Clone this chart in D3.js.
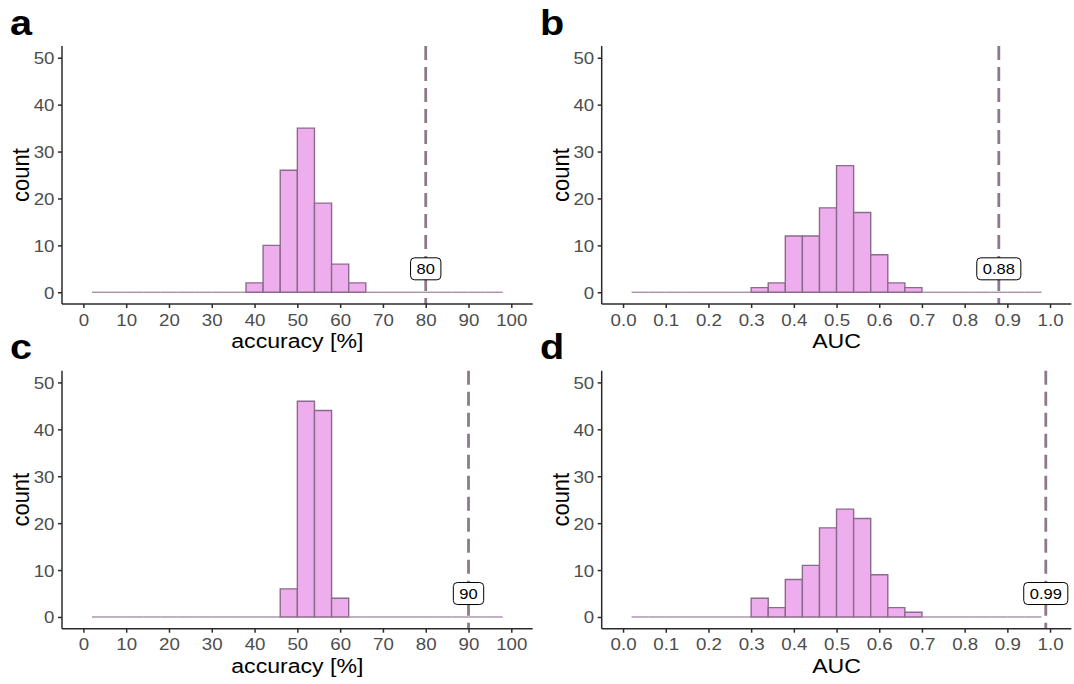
<!DOCTYPE html>
<html>
<head>
<meta charset="utf-8">
<script src="https://cdn.jsdelivr.net/npm/d3@7"></script>
<style>
  body { margin: 0; background: white; }
  text { font-family: "Liberation Sans", Arial, Helvetica, sans-serif; }
</style>
</head>
<body>
<div id="chart"></div>
<script>
// histogram bins (lower edges) and counts
const accBinStarts = [2, 6, 10, 14, 18, 22, 26, 30, 34, 38, 42, 46, 50, 54, 58, 62, 66, 70, 74, 78, 82, 86, 90, 94];
const accBinWidth = 4;
const aucBinStarts = [0.02, 0.06, 0.10, 0.14, 0.18, 0.22, 0.26, 0.30, 0.34, 0.38, 0.42, 0.46, 0.50, 0.54, 0.58, 0.62, 0.66, 0.70, 0.74, 0.78, 0.82, 0.86, 0.90, 0.94];
const aucBinWidth = 0.04;

const countsA = [0, 0, 0, 0, 0, 0, 0, 0, 0, 2, 10, 26, 35, 19, 6, 2, 0, 0, 0, 0, 0, 0, 0, 0];
const countsB = [0, 0, 0, 0, 0, 0, 0, 1, 2, 12, 12, 18, 27, 17, 8, 2, 1, 0, 0, 0, 0, 0, 0, 0];
const countsC = [0, 0, 0, 0, 0, 0, 0, 0, 0, 0, 0, 6, 46, 44, 4, 0, 0, 0, 0, 0, 0, 0, 0, 0];
const countsD = [0, 0, 0, 0, 0, 0, 0, 4, 2, 8, 11, 19, 23, 21, 9, 2, 1, 0, 0, 0, 0, 0, 0, 0];

const observed = [80, 0.88, 90, 0.99];
const observedLabels = ["80", "0.88", "90", "0.99"];
const letters = ["a", "b", "c", "d"];
const xTitles = ["accuracy [%]", "AUC", "accuracy [%]", "AUC"];
const accTicks = [0, 10, 20, 30, 40, 50, 60, 70, 80, 90, 100];
const aucTicks = [0, 0.1, 0.2, 0.3, 0.4, 0.5, 0.6, 0.7, 0.8, 0.9, 1.0];
const countTicks = [0, 10, 20, 30, 40, 50];

const W = 1074, H = 684;
const sx = 1.1; // the reference is slightly stretched horizontally
const fill = "#eeaeee", edge = "#8b6b8b", zeroEdge = "#a387a3", vlineColor = "#8c7a8c";
const axisColor = "#2b2b2b", tickText = "#4d4d4d";

const svg = d3.select("#chart").append("svg")
    .attr("width", W)
    .attr("height", H);

const layout = [
    { left: 62, right: 532.7, top: 46, bottom: 304, lx: 10, ly: 35 },
    { left: 601.7, right: 1071.4, top: 46, bottom: 304, lx: 540, ly: 35 },
    { left: 62, right: 532.7, top: 370.7, bottom: 628.7, lx: 10, ly: 359 },
    { left: 601.7, right: 1071.4, top: 370.7, bottom: 628.7, lx: 540, ly: 359 }
];

const panels = [
    { starts: accBinStarts, width: accBinWidth, counts: countsA, domain: [-5, 105], ticks: accTicks, fmt: d3.format("d") },
    { starts: aucBinStarts, width: aucBinWidth, counts: countsB, domain: [-0.05, 1.05], ticks: aucTicks, fmt: d3.format(".1f") },
    { starts: accBinStarts, width: accBinWidth, counts: countsC, domain: [-5, 105], ticks: accTicks, fmt: d3.format("d") },
    { starts: aucBinStarts, width: aucBinWidth, counts: countsD, domain: [-0.05, 1.05], ticks: aucTicks, fmt: d3.format(".1f") }
];

function stretched(g, x, y, extra) {
    return g.append("text")
        .attr("transform", `translate(${x},${y}) scale(${sx},1)` + (extra || ""));
}

panels.forEach((p, i) => {
    const L = layout[i];
    const x = d3.scaleLinear(p.domain, [L.left, L.right]);
    const y = d3.scaleLinear([-2.5, 52.5], [L.bottom, L.top]);
    const g = svg.append("g");

    // bars
    const bins = p.starts.map((s, j) => ({ x0: s, x1: s + p.width, count: p.counts[j] }));
    g.selectAll("path.bar")
        .data(bins)
        .enter()
        .append("path")
        .attr("class", "bar")
        .attr("d", d => {
            const a = x(d.x0), b = x(d.x1), y0 = y(0), y1 = y(d.count);
            return d.count === 0 ? `M${a},${y0}H${b}` : `M${a},${y0}V${y1}H${b}V${y0}Z`;
        })
        .attr("fill", d => d.count === 0 ? "none" : fill)
        .attr("stroke", d => d.count === 0 ? zeroEdge : edge)
        .attr("stroke-width", d => d.count === 0 ? 1.3 : 1.4);

    // observed value line
    g.append("line")
        .attr("x1", x(observed[i]))
        .attr("x2", x(observed[i]))
        .attr("y1", L.top)
        .attr("y2", L.bottom)
        .attr("stroke", vlineColor)
        .attr("stroke-width", 2.8)
        .attr("stroke-dasharray", "14,7");

    // label box
    const lab = g.append("g");
    const t = stretched(lab, x(observed[i]), y(5) + 5.3, "")
        .attr("text-anchor", "middle")
        .attr("font-size", 15)
        .attr("fill", "black")
        .text(observedLabels[i]);
    const tw = t.node().getComputedTextLength() * sx;
    lab.insert("rect", "text")
        .attr("x", x(observed[i]) - tw / 2 - 6)
        .attr("y", y(5) - 11)
        .attr("width", tw + 12)
        .attr("height", 22)
        .attr("rx", 4)
        .attr("fill", "white")
        .attr("stroke", "black")
        .attr("stroke-width", 1);

    // axes
    const xAxis = d3.axisBottom(x).tickValues(p.ticks).tickFormat(p.fmt).tickSize(4).tickSizeOuter(0);
    const gx = svg.append("g")
        .attr("transform", `translate(0,${L.bottom})`)
        .call(xAxis);
    gx.selectAll("text")
        .attr("y", null).attr("dy", null)
        .attr("transform", `translate(0,21.5) scale(${sx},1)`)
        .attr("font-size", 17)
        .attr("font-family", null)
        .attr("fill", tickText);

    const yAxis = d3.axisLeft(y).tickValues(countTicks).tickSize(4).tickSizeOuter(0);
    const gy = svg.append("g")
        .attr("transform", `translate(${L.left},0)`)
        .call(yAxis);
    gy.selectAll("text")
        .attr("x", null).attr("dy", null)
        .attr("transform", `translate(-7.5,6) scale(${sx},1)`)
        .attr("font-size", 17)
        .attr("font-family", null)
        .attr("fill", tickText);

    svg.selectAll(".domain, .tick line")
        .attr("stroke", axisColor)
        .attr("stroke-width", 1.5);
    gx.select(".domain").attr("d", `M${L.left},0H${L.right}`);
    gy.select(".domain").attr("d", `M0,${L.top}V${L.bottom}`);

    // titles
    stretched(svg, (L.left + L.right) / 2, L.bottom + 44, "")
        .attr("text-anchor", "middle")
        .attr("font-size", 21)
        .attr("fill", "black")
        .text(xTitles[i]);
    stretched(svg, L.left - 33, (L.top + L.bottom) / 2, " rotate(-90)")
        .attr("text-anchor", "middle")
        .attr("font-size", 22)
        .attr("fill", "black")
        .text("count");

    stretched(svg, L.lx, L.ly, "")
        .attr("font-size", 36)
        .attr("font-weight", "bold")
        .attr("fill", "black")
        .text(letters[i]);
});
</script>
</body>
</html>
